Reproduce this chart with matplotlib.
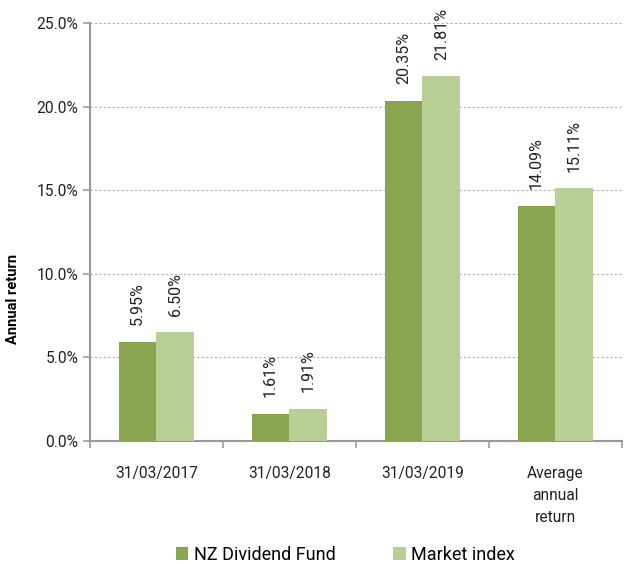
import matplotlib.pyplot as plt
import numpy as np
from matplotlib.ticker import FuncFormatter, MultipleLocator, FixedLocator

plt.rcParams['font.family'] = ['Roboto', 'DejaVu Sans']

categories = ["31/03/2017", "31/03/2018", "31/03/2019", "Average\nannual\nreturn"]
fund = [5.95, 1.61, 20.35, 14.09]
market = [6.50, 1.91, 21.81, 15.11]
series_names = ["NZ Dividend Fund", "Market index"]
colors = ["#8aa54f", "#b9cf96"]

fig = plt.figure(figsize=(6.28, 5.64), dpi=100)
ax = fig.add_axes([0.1433, 0.218, 0.847, 0.741])

x = np.arange(len(categories))
w = 0.285
b1 = ax.bar(x - w / 2, fund, w, color=colors[0], label=series_names[0], zorder=3)
b2 = ax.bar(x + w / 2, market, w, color=colors[1], label=series_names[1], zorder=3)

for bars, vals in [(b1, fund), (b2, market)]:
    for r, v in zip(bars, vals):
        ax.annotate(f"{v:.2f}%", (r.get_x() + r.get_width() / 2, v), xytext=(0, 12),
                    textcoords='offset points', rotation=90,
                    ha='center', va='bottom', fontsize=11.5, color='#222222')

ax.set_xlim(-0.5, 3.5)
ax.set_ylim(0, 25)
ax.yaxis.set_major_locator(MultipleLocator(5))
ax.yaxis.set_major_formatter(FuncFormatter(lambda v, p: f"{v:.1f}%"))
ax.grid(axis='y', linestyle=(0, (2, 2)), color='#b0b0b0', linewidth=0.8, zorder=0)

ax.set_xticks(x)
ax.set_xticklabels(categories, fontsize=11.2, color='#222222', linespacing=1.6, va='top')
ax.tick_params(axis='x', which='major', length=0, pad=18)
ax.xaxis.set_minor_locator(FixedLocator([-0.5, 0.5, 1.5, 2.5, 3.5]))
ax.tick_params(axis='x', which='minor', length=5, color='#999999', width=1.2)
ax.tick_params(axis='y', length=5, color='#999999', width=1.2, labelsize=11.2, labelcolor='#222222')

for s in ['top', 'right']:
    ax.spines[s].set_visible(False)
for s in ['left', 'bottom']:
    ax.spines[s].set_color('#999999')
    ax.spines[s].set_linewidth(1.5)

ax.set_ylabel("Annual return", fontsize=10.5, fontweight='bold')
ax.yaxis.set_label_coords(-0.132, 0.34)

fig.legend(handles=[b1, b2], loc='center', bbox_to_anchor=(0.55, 0.016), ncol=2,
           frameon=False, fontsize=13, handlelength=0.7, handleheight=0.7,
           handletextpad=0.3, columnspacing=3.2)

fig.savefig("out.png", dpi=100)
